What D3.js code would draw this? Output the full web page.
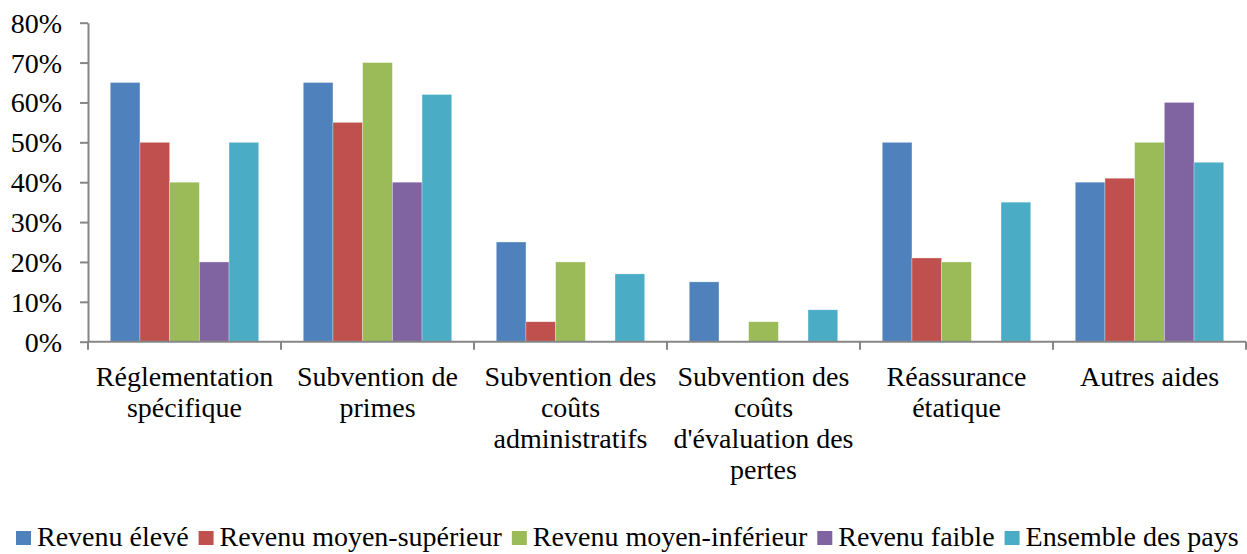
<!DOCTYPE html>
<html lang="fr">
<head>
  <meta charset="UTF-8">
  <title>Aides publiques par groupe de revenu</title>
  <script src="https://d3js.org/d3.v7.min.js"></script>
  <style>
    body { margin: 0; padding: 0; background: #fff; }
    svg { display: block; }
    text { font-family: "Liberation Serif", "DejaVu Serif", serif; fill: #000; }
    .axis path, .axis line { stroke: #868686; }
  </style>
</head>
<body>
  <svg width="1247" height="554"></svg>
  <script>
    const categories = [
      ["Réglementation", "spécifique"],
      ["Subvention de", "primes"],
      ["Subvention des", "coûts", "administratifs"],
      ["Subvention des", "coûts", "d'évaluation des", "pertes"],
      ["Réassurance", "étatique"],
      ["Autres aides"]
    ];
    const seriesNames = ["Revenu élevé", "Revenu moyen-supérieur", "Revenu moyen-inférieur", "Revenu faible", "Ensemble des pays"];
    const revenuEleve        = [65, 65, 25, 15, 50, 40];
    const revenuMoyenSup     = [50, 55, 5, 0, 21, 41];
    const revenuMoyenInf     = [40, 70, 20, 5, 20, 50];
    const revenuFaible       = [20, 40, 0, 0, 0, 60];
    const ensemblePays       = [50, 62, 17, 8, 35, 45];
    const yTicks = [0, 10, 20, 30, 40, 50, 60, 70, 80];
    const colors = ["#4F81BD", "#C0504D", "#9BBB59", "#8064A2", "#4BACC6"];

    const series = [revenuEleve, revenuMoyenSup, revenuMoyenInf, revenuFaible, ensemblePays];

    const svg = d3.select("svg");
    const plotLeft = 88, plotRight = 1246, plotTop = 22.7, plotBottom = 341.7;
    const fontSize = 28;

    const x0 = d3.scaleBand().domain(d3.range(categories.length)).range([plotLeft, plotRight]).padding(0);
    const x1 = d3.scaleBand().domain(d3.range(series.length)).range([0, x0.bandwidth()])
      .paddingInner(0).paddingOuter(0.75);
    const y = d3.scaleLinear().domain([0, 80]).range([plotBottom, plotTop]);

    // bars
    const groups = svg.append("g").selectAll("g")
      .data(categories)
      .join("g")
      .attr("transform", (d, i) => `translate(${x0(i)},0)`);

    groups.selectAll("rect")
      .data((d, i) => series.map((s, k) => ({ k, v: s[i] })))
      .join("rect")
      .attr("x", d => x1(d.k))
      .attr("width", x1.bandwidth())
      .attr("y", d => y(d.v))
      .attr("height", d => plotBottom - y(d.v))
      .attr("fill", d => colors[d.k])
      .attr("stroke", "rgba(255,255,255,0.5)")
      .attr("stroke-width", 0.6);

    // y axis
    const yAxis = svg.append("g")
      .attr("class", "axis")
      .attr("transform", `translate(${plotLeft},0)`)
      .call(d3.axisLeft(y).tickValues(yTicks).tickFormat(d => d + "%").tickSize(8).tickPadding(18).tickSizeOuter(0));
    yAxis.select(".domain").attr("stroke-width", 2);
    yAxis.selectAll(".tick line").attr("stroke-width", 2);
    yAxis.selectAll("text")
      .style("font-family", "Liberation Serif")
      .attr("font-size", fontSize)
      .attr("fill", "#000")
      .attr("dy", "0.34em");

    // x axis
    const xg = svg.append("g").attr("class", "axis");
    xg.append("line")
      .attr("x1", plotLeft).attr("x2", plotRight)
      .attr("y1", plotBottom).attr("y2", plotBottom)
      .attr("stroke-width", 2);
    xg.selectAll("line.tk")
      .data(d3.range(categories.length + 1))
      .join("line")
      .attr("class", "tk")
      .attr("x1", i => i < categories.length ? x0(i) : plotRight)
      .attr("x2", i => i < categories.length ? x0(i) : plotRight)
      .attr("y1", plotBottom).attr("y2", plotBottom + 8)
      .attr("stroke-width", 2);

    xg.selectAll("text")
      .data(categories)
      .join("text")
      .attr("x", (d, i) => x0(i) + x0.bandwidth() / 2)
      .attr("y", 386)
      .attr("text-anchor", "middle")
      .attr("font-size", fontSize)
      .selectAll("tspan")
      .data(d => d)
      .join("tspan")
      .attr("x", function () { return this.parentNode.getAttribute("x"); })
      .attr("dy", (d, j) => j === 0 ? 0 : 31)
      .text(d => d);

    // legend
    const legend = svg.append("g");
    let lx = 16;
    seriesNames.forEach((name, k) => {
      legend.append("rect")
        .attr("x", lx).attr("y", 531)
        .attr("width", 15).attr("height", 14)
        .attr("fill", colors[k]);
      const t = legend.append("text")
        .attr("x", lx + 21).attr("y", 546)
        .attr("font-size", fontSize)
        .text(name);
      lx += 21 + t.node().getComputedTextLength() + 10;
    });
  </script>
</body>
</html>
